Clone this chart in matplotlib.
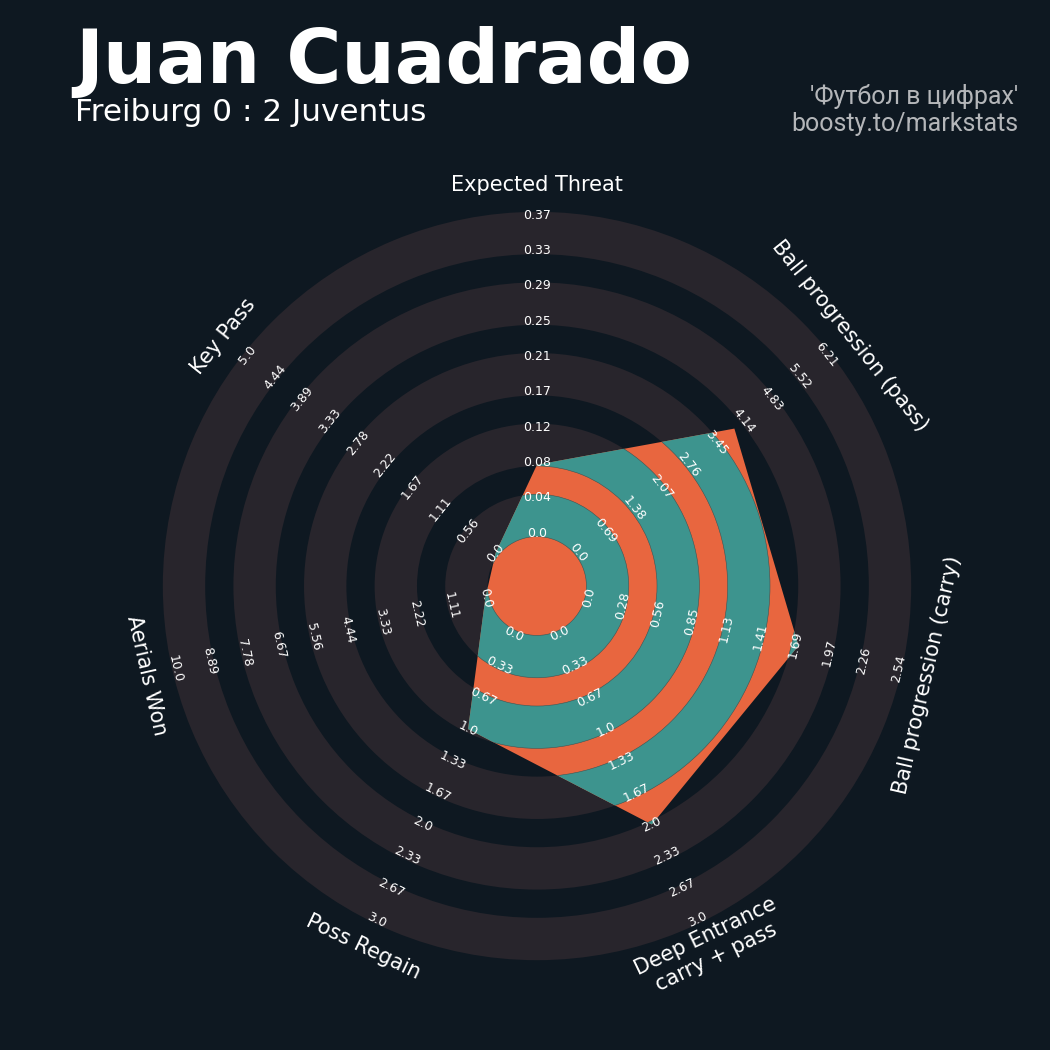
import numpy as np
import matplotlib.pyplot as plt
from matplotlib.patches import Wedge, Polygon

# данные радара
params = ['Expected Threat', 'Ball progression (pass)', 'Ball progression (carry)',
          'Deep Entrance\ncarry + pass', 'Poss Regain', 'Aerials Won', 'Key Pass']
low = [0, 0, 0, 0, 0, 0, 0]
high = [0.372, 6.21, 2.538, 3.0, 3.0, 10.0, 5.0]
values = [0.08, 3.9, 1.72, 2.0, 1.0, 0.0, 0.0]

title = 'Juan Cuadrado'
subtitle = 'Freiburg 0 : 2 Juventus'
credits = ["'Футбол в цифрах'", 'boosty.to/markstats']

bg = '#0e1821'
ring_gray = '#28252c'
orange = '#e8663f'
teal = '#3d948e'

n_labels = 10
r0 = 1.5          # радиус для минимального значения
ring_edges = [(1.4, 2.6), (3.4, 4.6), (5.4, 6.6), (7.4, 8.6), (9.4, 10.6)]
unit = 35.3       # пикселей на единицу
cx, cy = 537, 586


def rot(a):
    r = a - 90
    r = (r + 180) % 360 - 180
    if r > 90:
        r -= 180
    elif r <= -90:
        r += 180
    return r


fig = plt.figure(figsize=(10.5, 10.5), dpi=100, facecolor=bg)
ax = fig.add_axes([0, 0, 1, 1])
ax.set_facecolor(bg)
ax.set_xlim(-cx / unit, (1050 - cx) / unit)
ax.set_ylim(-(1050 - cy) / unit, cy / unit)
ax.axis('off')

# фоновые кольца
for a, b in ring_edges:
    ax.add_patch(Wedge((0, 0), b, 0, 360, width=b - a, facecolor=ring_gray, edgecolor='none', zorder=1))

# многоугольник
n = len(params)
angles = 90 - np.arange(n) * 360 / n
radii = [r0 + (n_labels - 1) * (v - lo) / (hi - lo) for v, lo, hi in zip(values, low, high)]
xs = np.array(radii) * np.cos(np.radians(angles))
ys = np.array(radii) * np.sin(np.radians(angles))
poly = Polygon(np.column_stack([xs, ys]), closed=True, facecolor=orange, edgecolor='none', zorder=2)
ax.add_patch(poly)
for a, b in ring_edges:
    w = Wedge((0, 0), b, 0, 360, width=b - a, facecolor=teal, edgecolor='#3a5555', lw=0.4, zorder=3)
    ax.add_patch(w)
    w.set_clip_path(poly)

# подписи диапазонов
for ang, lo, hi in zip(angles, low, high):
    labs = np.round(np.linspace(lo, hi, n_labels), 2)
    for j, lab in enumerate(labs):
        r = r0 + j
        ax.text(r * np.cos(np.radians(ang)), r * np.sin(np.radians(ang)), str(float(lab)),
                fontsize=9, color='white', ha='center', va='center',
                rotation=rot(ang), rotation_mode='anchor', zorder=5)

# названия параметров
for ang, p in zip(angles, params):
    r = 11.35
    ax.text(r * np.cos(np.radians(ang)), r * np.sin(np.radians(ang)), p,
            fontsize=15, color='white', ha='center', va='center', multialignment='center',
            rotation=rot(ang), rotation_mode='anchor', zorder=5)

# заголовки
fig.text(75 / 1050, 1 - 83 / 1050, title, fontsize=54, fontweight='bold', color='white',
         ha='left', va='baseline')
fig.text(75 / 1050, 1 - 121 / 1050, subtitle, fontsize=22.4, color='white', ha='left', va='baseline')
fig.text(1018 / 1050, 1 - 104 / 1050, credits[0], fontsize=18, family='Roboto', color='#b4b6b9',
         ha='right', va='baseline')
fig.text(1018 / 1050, 1 - 131 / 1050, credits[1], fontsize=18, family='Roboto', color='#b4b6b9',
         ha='right', va='baseline')

fig.savefig('out.png', dpi=100, facecolor=bg)
